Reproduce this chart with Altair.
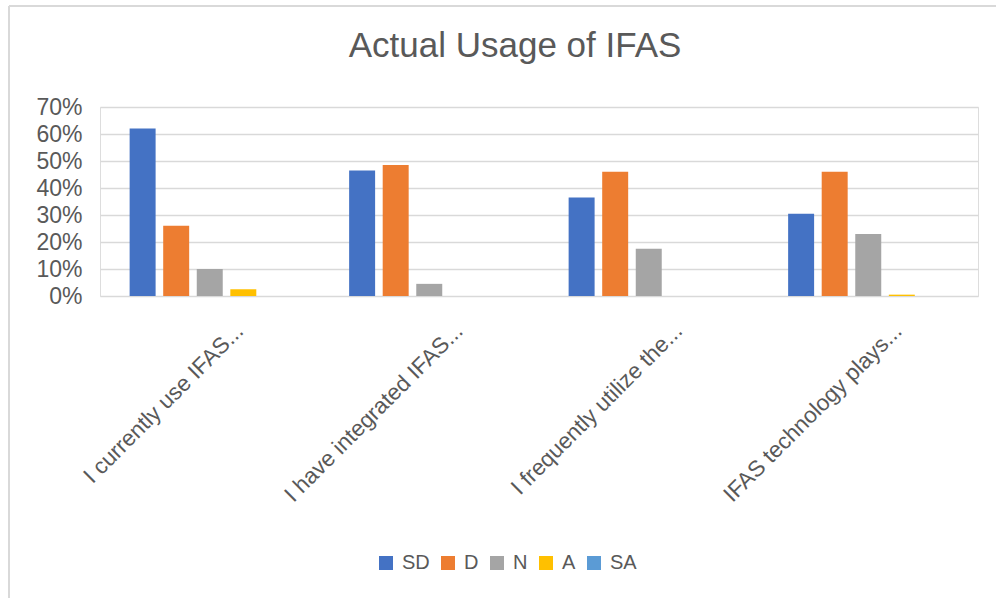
import altair as alt
import pandas as pd

# Survey statements (truncated as displayed) and response levels
questions = [
    "I currently use IFAS...",
    "I have integrated IFAS...",
    "I frequently utilize the...",
    "IFAS technology plays...",
]
levels = ["SD", "D", "N", "A", "SA"]
level_colors = ["#4472C4", "#ED7D31", "#A5A5A5", "#FFC000", "#5B9BD5"]

# Share of respondents per level, in percent
sd_pct = [62.0, 46.5, 36.5, 30.5]
d_pct = [26.0, 48.5, 46.0, 46.0]
n_pct = [10.0, 4.5, 17.5, 23.0]
a_pct = [2.5, 0.0, 0.0, 0.5]
sa_pct = [0.0, 0.0, 0.0, 0.0]

chart_title = "Actual Usage of IFAS"

series = dict(zip(levels, [sd_pct, d_pct, n_pct, a_pct, sa_pct]))
rows = []
for lvl in levels:
    for q, v in zip(questions, series[lvl]):
        rows.append({"question": q, "level": lvl, "share": v / 100.0})
df = pd.DataFrame(rows)

FONT = "Liberation Sans"
TEXT = "#595959"
GRID = "#d9d9d9"

bars = alt.Chart(df).mark_bar().encode(
    x=alt.X(
        "question:N",
        sort=questions,
        title=None,
        scale=alt.Scale(paddingInner=0.27, paddingOuter=0.135),
        axis=alt.Axis(
            labelAngle=-45,
            labelAlign="right",
            labelBaseline="middle",
            labelFontSize=22.5,
            labelColor=TEXT,
            labelFont=FONT,
            labelOffset=30,
            labelPadding=31,
            labelLimit=400,
            domain=False,
            ticks=False,
            grid=False,
        ),
    ),
    xOffset=alt.XOffset(
        "level:N",
        sort=levels,
        scale=alt.Scale(paddingInner=0.226, paddingOuter=0),
    ),
    y=alt.Y(
        "share:Q",
        title=None,
        scale=alt.Scale(domain=[0, 0.7], nice=False),
        axis=alt.Axis(
            format=".0%",
            values=[0, 0.1, 0.2, 0.3, 0.4, 0.5, 0.6, 0.7],
            labelFontSize=23,
            labelColor=TEXT,
            labelFont=FONT,
            labelPadding=18,
            domain=False,
            ticks=False,
            grid=True,
            gridColor=GRID,
            gridWidth=1.4,
        ),
    ),
    color=alt.Color(
        "level:N",
        sort=levels,
        scale=alt.Scale(domain=levels, range=level_colors),
        legend=alt.Legend(
            title=None,
            orient="none",
            direction="horizontal",
            legendX=276,
            legendY=446,
            symbolType="square",
            symbolSize=196,
            symbolStrokeWidth=0,
            symbolOpacity=1,
            labelFontSize=20,
            labelFont=FONT,
            labelColor=TEXT,
            labelOffset=6,
            columnPadding=8,
        ),
    ),
)

# Chart title, centred over the chart area
frame_src = pd.DataFrame({"k": [0]})
title_mark = alt.Chart(frame_src).mark_text(
    font=FONT, fontSize=35, color=TEXT, align="center", baseline="alphabetic"
).encode(x=alt.value(415), y=alt.value(-50), text=alt.value(chart_title))

# Chart-area frame: top and left edges
left_edge = alt.Chart(frame_src).mark_rule(color=GRID, strokeWidth=2).encode(
    x=alt.value(-91), y=alt.value(-101), y2=alt.value(491)
)
top_edge = alt.Chart(frame_src).mark_rule(color=GRID, strokeWidth=2).encode(
    x=alt.value(-91), x2=alt.value(896), y=alt.value(-101)
)

chart = (
    alt.layer(bars, title_mark, left_edge, top_edge)
    .properties(
        width=878,
        height=189,
        autosize=alt.AutoSizeParams(type="none"),
        padding={"left": 100, "top": 107, "right": 18, "bottom": 302},
    )
    .configure_view(stroke=None)
    .configure(background="white")
)

chart.save("out.html", embed_options={"renderer": "svg", "actions": False})
